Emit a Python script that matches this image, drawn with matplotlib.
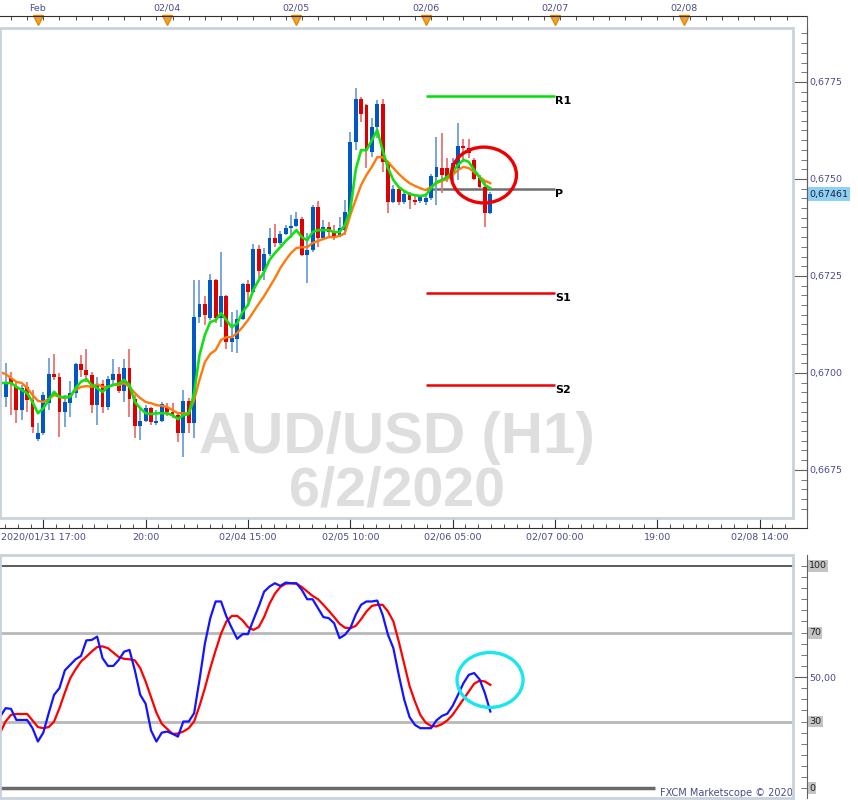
import numpy as np
import matplotlib
matplotlib.use("Agg")
import matplotlib.pyplot as plt
from matplotlib.patches import Ellipse, Rectangle
from matplotlib.lines import Line2D
from matplotlib.ticker import MultipleLocator, FixedLocator, FuncFormatter
import matplotlib.transforms as mtransforms

# ---- data (AUD/USD H1) ----
bars = np.arange(-8, 84)

opens = [0.66994, 0.66938, 0.66986, 0.66964, 0.66904, 0.66964, 0.66930, 0.66830,
         0.66845, 0.66922, 0.66997, 0.66989, 0.66899, 0.66922, 0.66948, 0.67023,
         0.67007, 0.66994, 0.66917, 0.66972, 0.66912, 0.66982, 0.66997, 0.66953,
         0.67012, 0.66933, 0.66863, 0.66875, 0.66909, 0.66870, 0.66875, 0.66912,
         0.66899, 0.66891, 0.66845, 0.66927, 0.66870, 0.67144, 0.67178, 0.67141,
         0.67239, 0.67141, 0.67198, 0.67080, 0.67088, 0.67139, 0.67229, 0.67209,
         0.67320, 0.67262, 0.67306, 0.67347, 0.67334, 0.67358, 0.67373, 0.67379,
         0.67397, 0.67304, 0.67317, 0.67428, 0.67347, 0.67376, 0.67363, 0.67353,
         0.67368, 0.67415, 0.67595, 0.67706, 0.67690, 0.67569, 0.67634, 0.67693,
         0.67544, 0.67440, 0.67474, 0.67440, 0.67461, 0.67446, 0.67443, 0.67440,
         0.67451, 0.67505, 0.67528, 0.67528, 0.67513, 0.67528, 0.67585, 0.67580,
         0.67549, 0.67502, 0.67479, 0.67412]
highs = [0.67002, 0.67025, 0.67002, 0.66977, 0.66969, 0.66977, 0.66956, 0.66870,
         0.66951, 0.67038, 0.67049, 0.66999, 0.66943, 0.66979, 0.67025, 0.67046,
         0.67062, 0.67002, 0.66989, 0.66982, 0.66992, 0.67036, 0.67015, 0.67036,
         0.67062, 0.66943, 0.66909, 0.66917, 0.66912, 0.66904, 0.66925, 0.66922,
         0.66922, 0.66899, 0.66956, 0.66935, 0.67239, 0.67239, 0.67198, 0.67255,
         0.67242, 0.67312, 0.67201, 0.67157, 0.67162, 0.67231, 0.67239, 0.67332,
         0.67329, 0.67322, 0.67373, 0.67384, 0.67365, 0.67381, 0.67407, 0.67415,
         0.67402, 0.67360, 0.67433, 0.67443, 0.67394, 0.67389, 0.67381, 0.67402,
         0.67446, 0.67621, 0.67734, 0.67711, 0.67693, 0.67657, 0.67703, 0.67706,
         0.67546, 0.67484, 0.67479, 0.67471, 0.67466, 0.67458, 0.67458, 0.67458,
         0.67513, 0.67608, 0.67618, 0.67554, 0.67554, 0.67644, 0.67603, 0.67603,
         0.67554, 0.67510, 0.67497, 0.67466]
lows = [0.66870, 0.66912, 0.66891, 0.66870, 0.66878, 0.66899, 0.66845, 0.66824,
        0.66840, 0.66904, 0.66982, 0.66835, 0.66860, 0.66886, 0.66935, 0.66989,
        0.66977, 0.66896, 0.66865, 0.66896, 0.66904, 0.66969, 0.66948, 0.66925,
        0.66886, 0.66832, 0.66827, 0.66873, 0.66865, 0.66865, 0.66873, 0.66889,
        0.66883, 0.66822, 0.66783, 0.66845, 0.66832, 0.67128, 0.67123, 0.67136,
        0.67128, 0.67118, 0.67062, 0.67054, 0.67051, 0.67136, 0.67183, 0.67205,
        0.67244, 0.67239, 0.67301, 0.67324, 0.67329, 0.67355, 0.67347, 0.67376,
        0.67301, 0.67231, 0.67312, 0.67324, 0.67345, 0.67347, 0.67342, 0.67350,
        0.67355, 0.67407, 0.67574, 0.67647, 0.67528, 0.67556, 0.67605, 0.67518,
        0.67412, 0.67438, 0.67433, 0.67435, 0.67422, 0.67433, 0.67438, 0.67433,
        0.67446, 0.67433, 0.67464, 0.67492, 0.67497, 0.67497, 0.67544, 0.67554,
        0.67497, 0.67476, 0.67376, 0.67409]
closes = [0.66938, 0.66977, 0.66974, 0.66904, 0.66961, 0.66930, 0.66860, 0.66845,
          0.66943, 0.66997, 0.66989, 0.66899, 0.66925, 0.66948, 0.67023, 0.67007,
          0.66994, 0.66917, 0.66972, 0.66912, 0.66984, 0.66997, 0.66953, 0.67012,
          0.66933, 0.66863, 0.66875, 0.66909, 0.66873, 0.66875, 0.66920, 0.66899,
          0.66889, 0.66845, 0.66927, 0.66870, 0.67144, 0.67178, 0.67149, 0.67239,
          0.67141, 0.67198, 0.67080, 0.67090, 0.67139, 0.67229, 0.67209, 0.67320,
          0.67262, 0.67306, 0.67347, 0.67334, 0.67358, 0.67373, 0.67379, 0.67397,
          0.67304, 0.67317, 0.67428, 0.67347, 0.67376, 0.67363, 0.67350, 0.67373,
          0.67415, 0.67595, 0.67706, 0.67667, 0.67574, 0.67634, 0.67693, 0.67544,
          0.67440, 0.67474, 0.67440, 0.67461, 0.67446, 0.67440, 0.67453, 0.67451,
          0.67507, 0.67531, 0.67510, 0.67500, 0.67541, 0.67585, 0.67580, 0.67567,
          0.67500, 0.67479, 0.67412, 0.67461]

ma_fast = [0.66974, 0.66974, 0.66974, 0.66964, 0.66956, 0.66948, 0.66925, 0.66896,
           0.66909, 0.66930, 0.66951, 0.66938, 0.66938, 0.66938, 0.66961, 0.66977,
           0.66984, 0.66969, 0.66961, 0.66951, 0.66964, 0.66969, 0.66972, 0.66982,
           0.66969, 0.66925, 0.66909, 0.66896, 0.66894, 0.66896, 0.66896, 0.66896,
           0.66891, 0.66881, 0.66891, 0.66894, 0.66948, 0.67046, 0.67098, 0.67131,
           0.67136, 0.67154, 0.67136, 0.67118, 0.67128, 0.67157, 0.67175, 0.67214,
           0.67239, 0.67260, 0.67291, 0.67309, 0.67324, 0.67340, 0.67353, 0.67368,
           0.67350, 0.67342, 0.67363, 0.67368, 0.67368, 0.67368, 0.67363, 0.67363,
           0.67381, 0.67420, 0.67523, 0.67574, 0.67574, 0.67600, 0.67626, 0.67574,
           0.67528, 0.67497, 0.67479, 0.67469, 0.67461, 0.67458, 0.67456, 0.67458,
           0.67476, 0.67492, 0.67497, 0.67505, 0.67518, 0.67536, 0.67549, 0.67544,
           0.67523, 0.67505, 0.67484, 0.67476]
ma_slow = [0.67002, 0.66997, 0.66987, 0.66977, 0.66974, 0.66961, 0.66943, 0.66928,
           0.66925, 0.66933, 0.66943, 0.66938, 0.66935, 0.66940, 0.66956, 0.66964,
           0.66966, 0.66964, 0.66971, 0.66964, 0.66964, 0.66969, 0.66969, 0.66974,
           0.66964, 0.66948, 0.66935, 0.66925, 0.66922, 0.66917, 0.66915, 0.66912,
           0.66904, 0.66896, 0.66896, 0.66896, 0.66930, 0.66982, 0.67028, 0.67049,
           0.67059, 0.67085, 0.67092, 0.67092, 0.67103, 0.67118, 0.67136, 0.67157,
           0.67178, 0.67198, 0.67221, 0.67244, 0.67270, 0.67291, 0.67309, 0.67322,
           0.67324, 0.67324, 0.67335, 0.67340, 0.67345, 0.67350, 0.67350, 0.67353,
           0.67360, 0.67407, 0.67446, 0.67484, 0.67510, 0.67531, 0.67556, 0.67556,
           0.67544, 0.67528, 0.67513, 0.67500, 0.67489, 0.67482, 0.67476, 0.67471,
           0.67479, 0.67489, 0.67495, 0.67500, 0.67510, 0.67523, 0.67531, 0.67528,
           0.67518, 0.67505, 0.67495, 0.67489]

stoch_k = [32.2, 36, 35.7, 30.7, 30.7, 30.7, 27, 21, 25, 33.7, 42, 45, 53, 55.5,
           58, 59.5, 66.5, 66.7, 68.2, 58.5, 55, 55, 57.7, 61.4, 62.2, 53, 42, 38,
           26, 21, 25, 25.5, 24.5, 23.2, 30, 30, 33.7, 48.7, 65, 76.5, 84, 84, 77.2,
           72, 67.2, 69.3, 69.3, 75.7, 81.7, 88.4, 90.7, 92.2, 91, 92.5, 92.2, 92.2,
           89.2, 85, 85, 81, 77, 76.5, 74.2, 67.5, 69, 72, 78, 82.5, 84, 84, 84.4,
           78, 69, 63, 51, 40, 32, 28.5, 27, 27, 27, 30.5, 32.5, 33.5, 37, 42, 47.2,
           51, 51.8, 49, 42.7, 34.5]
stoch_d = [25, 30, 33, 33.4, 33.4, 33.4, 30.5, 27.5, 27, 27.5, 30, 36, 43, 49.5,
           53.5, 57, 59.2, 61.5, 63.5, 63.8, 63, 61, 59, 58.2, 58, 57.5, 54, 48, 41,
           34, 29, 26.7, 24.4, 24.6, 25.5, 27, 30, 37, 45, 54, 62, 69.5, 75, 77.5,
           77.5, 75.5, 72.5, 71.2, 72.5, 77, 83, 87.5, 90.5, 92, 92.2, 92, 90.5,
           88.5, 86.5, 85, 82.5, 79.8, 77, 74, 72.2, 72, 73, 76, 79.5, 82, 82.5,
           82.5, 79.5, 75, 66, 56, 46, 39, 33, 29.5, 28, 27.8, 28.8, 30.5, 33, 36.5,
           40, 43.5, 47, 48.4, 48, 46.5]

pivot_names = ["R1", "P", "S1", "S2"]
pivot_levels = [0.67714, 0.67474, 0.67207, 0.66969]
pivot_colors = ["#00e000", "#6e6e6e", "#ee0000", "#ee0000"]
pivot_span = (71, 95)

top_ticks = [-1, 23, 47, 71, 95, 119]
top_labels = ["Feb", "02/04", "02/05", "02/06", "02/07", "02/08"]
bottom_ticks = [0, 19, 38, 57, 76, 95, 114, 133]
bottom_labels = ["2020/01/31 17:00", "20:00", "02/04 15:00", "02/05 10:00",
                 "02/06 05:00", "02/07 00:00", "19:00", "02/08 14:00"]
stoch_levels = [100, 70, 30, 0]

opens, highs, lows, closes = map(np.array, (opens, highs, lows, closes))

# ---- layout in pixels ----
W, H = 858, 800
PT = 0.72  # points per pixel at 100 dpi
txt = "#4b4b8b"
plt.rcParams["font.family"] = ["DejaVu Sans"]

fig = plt.figure(figsize=(W / 100, H / 100), dpi=100)
fig.patch.set_facecolor("white")
ax = fig.add_axes([0, 1 - 518 / H, 793 / W, 490 / H])
axs = fig.add_axes([0, 1 - 798 / H, 793 / W, 243 / H])

XL = (-8.04, 139.2)


def figline(xs, ys, color, lw):
    # pixel coordinates -> figure fraction
    fig.add_artist(Line2D([x / W for x in xs], [1 - y / H for y in ys],
                          transform=fig.transFigure, color=color, lw=lw))


# ---- main price panel ----
ax.set_xlim(*XL)
ax.set_ylim(0.66626, 0.67889)

up = closes >= opens
dn = ~up
blo = np.minimum(opens, closes)
bh = np.maximum(np.abs(closes - opens), 0.00003)
ax.vlines(bars[up], lows[up], highs[up], color="#6d9fdc", lw=1.3, zorder=2)
ax.vlines(bars[dn], lows[dn], highs[dn], color="#ea7373", lw=1.3, zorder=2)
ax.bar(bars[up], bh[up], bottom=blo[up], width=0.72, color="#0058c4", zorder=3)
ax.bar(bars[dn], bh[dn], bottom=blo[dn], width=0.72, color="#dc0000", zorder=3)

ax.plot(bars, ma_slow, color="#ff7a0a", lw=1.7, zorder=4)
ax.plot(bars, ma_fast, color="#11e011", lw=1.9, zorder=5)

for name, lev, col in zip(pivot_names, pivot_levels, pivot_colors):
    ax.hlines(lev, pivot_span[0], pivot_span[1], color=col, lw=1.8, zorder=1)
    ax.text(pivot_span[1] + 0.1, lev, name, fontsize=8, fontweight="bold",
            color="black", ha="left", va="top", zorder=6)

ax.add_patch(Ellipse((81.8, 0.67510), 12.1, 0.00144, fill=False,
                     ec="#ee0000", lw=2.4, zorder=7))

ax.text(0.5006, 0.163, "AUD/USD (H1)", transform=ax.transAxes, ha="center",
        va="center", fontsize=42, fontweight="bold", color="#dedede",
        family="Liberation Sans", zorder=0)
ax.text(0.5006, 0.055, "6/2/2020", transform=ax.transAxes, ha="center",
        va="center", fontsize=40, fontweight="bold", color="#dedede",
        family="Liberation Sans", zorder=0)

for s in ["left", "top"]:
    ax.spines[s].set_visible(False)
ax.spines["right"].set_position(("outward", 14 * PT))
ax.spines["right"].set_color("#606060")
ax.spines["bottom"].set_position(("outward", 10 * PT))
ax.spines["bottom"].set_color("#303030")
ax.yaxis.tick_right()
ax.yaxis.set_major_locator(MultipleLocator(0.0025))
ax.yaxis.set_minor_locator(MultipleLocator(0.00025))
ax.yaxis.set_major_formatter(FuncFormatter(lambda v, _: f"{v:.4f}".replace(".", ",")))
ax.tick_params(axis="y", which="major", direction="in", length=14 * PT,
               color="#606060", labelsize=6.8, labelcolor=txt, pad=2 * PT)
ax.tick_params(axis="y", which="minor", direction="in", length=6 * PT, color="#606060")
ax.xaxis.set_major_locator(FixedLocator(bottom_ticks))
ax.xaxis.set_minor_locator(MultipleLocator(19 / 8))
ax.set_xticklabels(bottom_labels)
ax.tick_params(axis="x", which="major", direction="in", length=10 * PT,
               color="#303030", labelsize=6.8, labelcolor=txt, pad=5 * PT)
ax.tick_params(axis="x", which="minor", direction="in", length=4 * PT, color="#303030")
ax.add_patch(Rectangle((0, 0), 1, 1, transform=ax.transAxes, fill=False,
                       ec="#c9d1dc", lw=2, clip_on=False, zorder=8))

# current price box
bt = mtransforms.blended_transform_factory(ax.transAxes, ax.transData)
ax.text(809 / 793, closes[-1], f"{closes[-1]:.5f}".replace(".", ","), transform=bt,
        fontsize=6.8, color="#202040", ha="left", va="center",
        bbox=dict(fc="#8fd0f5", ec="none", pad=1.5), clip_on=False)

# top date strip
axt = ax.twiny()
axt.set_xlim(*XL)
for s in ["left", "right", "bottom"]:
    axt.spines[s].set_visible(False)
axt.spines["top"].set_position(("outward", 12 * PT))
axt.spines["top"].set_color("#303030")
axt.xaxis.set_major_locator(FixedLocator(top_ticks))
axt.xaxis.set_minor_locator(MultipleLocator(3))
axt.set_xticklabels(top_labels)
axt.tick_params(axis="x", which="major", direction="in", length=4 * PT,
                color="#303030", labelsize=6.8, labelcolor=txt, pad=3 * PT)
axt.tick_params(axis="x", which="minor", direction="in", length=4 * PT, color="#303030")
tt = mtransforms.blended_transform_factory(axt.transData, axt.transAxes)
axt.plot(top_ticks, [1 + 8 / 490] * len(top_ticks), ls="none", marker="v",
         ms=7, color="#f5a030", mec="#e08a10", transform=tt, clip_on=False)

# axis-line extensions out to the price scale
figline([793, 807], [16, 16], "#303030", 0.8)
figline([807, 807], [16, 528], "#606060", 0.8)
figline([793, 807], [528, 528], "#303030", 0.8)

# ---- stochastic panel ----
axs.set_xlim(*XL)
axs.set_ylim(-4.4, 104.9)
axs.axhline(100, color="#404040", lw=1.2, zorder=1)
axs.axhline(70, color="#b8b8b8", lw=2, zorder=1)
axs.axhline(30, color="#b8b8b8", lw=2, zorder=1)
axs.hlines(0, XL[0], 113.6, color="#6a6a6a", lw=2.5, zorder=1)
axs.plot(bars, stoch_d, color="#ff0000", lw=1.6, zorder=3)
axs.plot(bars, stoch_k, color="#1414ff", lw=1.6, zorder=4)
axs.add_patch(Ellipse((82.95, 48.7), 12.25, 24.7, fill=False, ec="#1ae6ee",
                      lw=2.4, zorder=5))
st = mtransforms.blended_transform_factory(axs.transAxes, axs.transData)
axs.text(1.0, -2.0, "FXCM Marketscope \u00a9 2020", transform=st,
         ha="right", va="center", fontsize=7, color=txt)

for s in ["left", "top", "bottom"]:
    axs.spines[s].set_visible(False)
axs.spines["right"].set_position(("outward", 14 * PT))
axs.spines["right"].set_color("#606060")
axs.xaxis.set_visible(False)
axs.yaxis.tick_right()
axs.yaxis.set_major_locator(FixedLocator([50]))
axs.yaxis.set_minor_locator(MultipleLocator(5))
axs.yaxis.set_major_formatter(FuncFormatter(lambda v, _: f"{v:.2f}".replace(".", ",")))
axs.tick_params(axis="y", which="major", direction="in", length=14 * PT,
                color="#606060", labelsize=6.8, labelcolor=txt, pad=2 * PT)
axs.tick_params(axis="y", which="minor", direction="in", length=6 * PT, color="#606060")
axs.add_patch(Rectangle((0, 0), 1, 1, transform=axs.transAxes, fill=False,
                        ec="#c9d1dc", lw=2, clip_on=False, zorder=8))
for lev in stoch_levels:
    axs.text(809 / 793, lev, str(lev), transform=st, fontsize=6.8, color="#202020",
             ha="left", va="center", clip_on=False,
             bbox=dict(fc="#c4c4c4", ec="none", pad=1.0))

fig.savefig("out.png", dpi=100)
